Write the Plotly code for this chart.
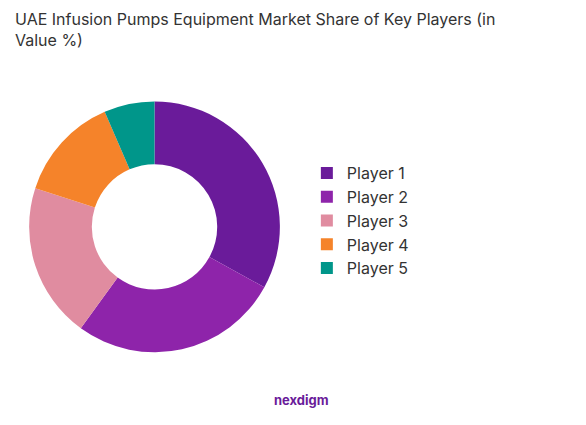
import plotly.graph_objects as go

players = ["Player 1", "Player 2", "Player 3", "Player 4", "Player 5"]
shares = [33, 27, 20, 13.5, 6.5]
colors = ["#6a1b9a", "#8e24aa", "#e08ca0", "#f5832a", "#00968a"]

fig = go.Figure()

fig.add_trace(go.Pie(
    labels=players,
    values=shares,
    hole=0.5,
    sort=False,
    direction="clockwise",
    rotation=0,
    marker=dict(colors=colors),
    textinfo="none",
    domain=dict(x=[0.0, 0.5], y=[0.19, 0.78]),
))

fig.update_layout(
    title=dict(
        text="UAE Infusion Pumps Equipment Market Share of Key Players (in<br>Value %)",
        x=0.012, xanchor="left", y=0.96, yanchor="top",
        font=dict(family="Inter", size=16, color="#333333"),
    ),
    legend=dict(
        x=0.51, y=0.5, yanchor="middle",
        font=dict(family="Inter", size=16, color="#333333"),
    ),
    width=586, height=425,
    margin=dict(l=0, r=0, t=0, b=0),
    paper_bgcolor="white",
    annotations=[dict(
        text="<b>nexdigm</b>", x=0.5, y=0.055, xref="paper", yref="paper",
        showarrow=False, font=dict(family="Inter", size=13, color="#6a1b9a"),
    )],
)

fig.write_html("out.html")
